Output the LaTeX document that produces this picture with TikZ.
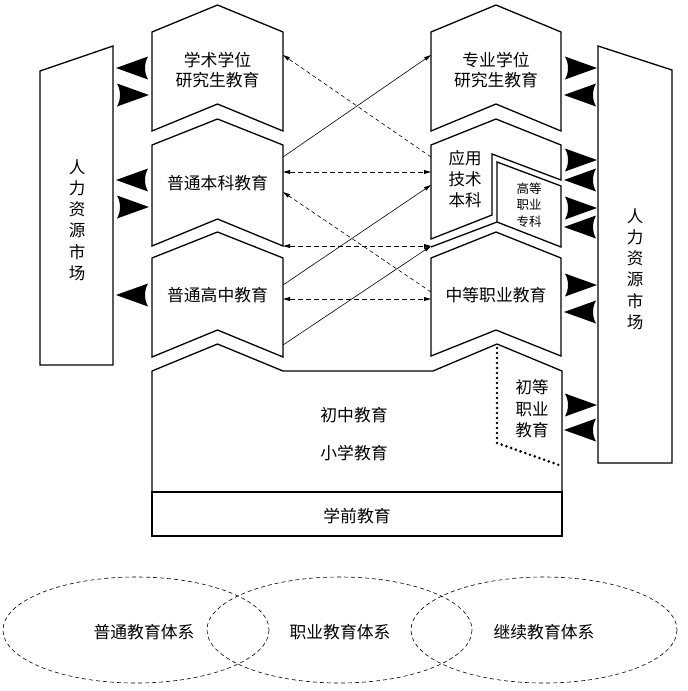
\documentclass[tikz,border=0pt]{standalone}
\usepackage{fontspec}
\newfontfamily\cjk{Noto Sans CJK SC}
\usetikzlibrary{arrows.meta}
\begin{document}
\begin{tikzpicture}[x=1pt,y=-1pt,
  box/.style={draw, line width=1.3pt, line join=miter},
  txt/.style={font=\cjk\fontsize{16.8}{20.5}\selectfont, align=center, inner sep=0pt},
  vtxt/.style={font=\cjk\fontsize{16.5}{21.2}\selectfont, align=center, inner sep=0pt},
  smalltxt/.style={font=\cjk\fontsize{12.5}{16.5}\selectfont, align=center, inner sep=0pt},
  link/.style={line width=0.6pt, -{Triangle[length=7pt,width=3.8pt]}},
  dlink/.style={link, dash pattern=on 4pt off 3pt},
  hlink/.style={line width=0.9pt, dash pattern=on 5pt off 3pt, {Triangle[length=7pt,width=3.8pt]}-{Triangle[length=7pt,width=3.8pt]}},
  ring/.style={draw, line width=0.6pt, dash pattern=on 4pt off 3pt},
  dotline/.style={draw, line width=2.9pt, line cap=round, dash pattern=on 0pt off 5pt},
  bigtip/.pic={\fill (0,0) -- (-32,-11.5) .. controls (-28,-4) and (-28,4) .. (-32,11.5) -- cycle;}
]
\useasboundingbox (0,0) rectangle (688,691);

% ---------- human resource markets ----------
\draw[box] (40,71) -- (113,46) -- (113,365) -- (40,365) -- cycle;
\node[vtxt] (mL) at (77,220) {人\\力\\资\\源\\市\\场};
\draw[box] (598,46) -- (672,70) -- (672,463) -- (598,463) -- cycle;
\node[vtxt] (mR) at (635,269) {人\\力\\资\\源\\市\\场};

% ---------- left column ----------
\draw[box] (152,32) -- (217.5,5) -- (283,32) -- (283,131) -- (217.5,104) -- (152,131) -- cycle;
\node[txt] (xs) at (217.5,70) {学术学位\\研究生教育};
\draw[box] (152,145) -- (217.5,119) -- (283,145) -- (283,246) -- (217.5,219) -- (152,246) -- cycle;
\node[txt] (bk) at (217.5,183) {普通本科教育};
\draw[box] (152,258) -- (217.5,232) -- (283,258) -- (283,357) -- (217.5,330) -- (152,357) -- cycle;
\node[txt] (gz) at (217.5,295) {普通高中教育};

% ---------- right column ----------
\draw[box] (431,32) -- (496,5) -- (561,32) -- (561,131) -- (496,104) -- (431,131) -- cycle;
\node[txt] (zy) at (496,70) {专业学位\\研究生教育};
\draw[box] (431,145) -- (496,119) -- (561,145) -- (561,180) -- (492,154) -- (492,215) -- (431,239) -- cycle;
\node[txt, font=\cjk\fontsize{16.5}{21}\selectfont] (yy) at (465,179) {应用\\技术\\本科};
\draw[box] (497,162) -- (561,186) -- (561,247) -- (497,222) -- cycle;
\draw[box] (497,222) -- (431,247);
\node[smalltxt] (gzk) at (529,205) {高等\\职业\\专科};
\draw[box] (431,258) -- (496,232) -- (561,258) -- (561,356) -- (496,330) -- (431,356) -- cycle;
\node[txt] (zz) at (496,295) {中等职业教育};

% ---------- base ----------
\draw[box] (152,371) -- (217.5,344) -- (283,371) -- (433,371) -- (497,344) -- (562,371) -- (562,492) -- (152,492) -- cycle;
\draw[box] (152,492) rectangle (562,536);
\node[txt] (cz) at (354,415) {初中教育};
\node[txt] (xx) at (354,453) {小学教育};
\node[txt] (xq) at (357,516) {学前教育};
\path[dotline] (497,348) -- (497,443) -- (559,465);
\node[txt, font=\cjk\fontsize{16.5}{21.5}\selectfont] (cd) at (532,409) {初等\\职业\\教育};

% ---------- connectors between columns ----------
\coordinate (a1) at (283,55);  \coordinate (b1) at (431,157);
\coordinate (a2) at (283,157); \coordinate (b2) at (431,55);
\coordinate (a3) at (283,172); \coordinate (b3) at (431,172);
\coordinate (a4) at (283,192); \coordinate (b4) at (431,292);
\coordinate (a5) at (283,285); \coordinate (b5) at (431,185);
\coordinate (a6) at (283,246); \coordinate (b6) at (431,246);
\coordinate (a7) at (283,345);
\coordinate (a8) at (283,299); \coordinate (b8) at (431,299);
\draw[dlink] (b1) -- (a1);
\draw[link] (a2) -- (b2);
\draw[hlink] (a3) -- (b3);
\draw[dlink] (b4) -- (a4);
\draw[link] (a5) -- (b5);
\draw[hlink] (a6) -- (b6);
\draw[link] (a7) -- (b6);
\draw[hlink] (a8) -- (b8);

% ---------- big arrowheads ----------
\pic[rotate=180] at (116,68) {bigtip};
\pic at (149,95) {bigtip};
\pic[rotate=180] at (116,180) {bigtip};
\pic at (149,207) {bigtip};
\pic[rotate=180] at (116,295) {bigtip};

\pic at (597,68) {bigtip};
\pic[rotate=180] at (564,95) {bigtip};
\pic at (597,160) {bigtip};
\pic[rotate=180] at (564,180) {bigtip};
\pic at (597,208) {bigtip};
\pic[rotate=180] at (564,227) {bigtip};
\pic at (597,285) {bigtip};
\pic[rotate=180] at (564,312) {bigtip};
\pic at (597,405) {bigtip};
\pic[rotate=180] at (564,430) {bigtip};

% ---------- education systems ----------
\draw[ring] (136,630) ellipse [x radius=133, y radius=53];
\draw[ring] (339.5,630) ellipse [x radius=132.5, y radius=53];
\draw[ring] (544,630) ellipse [x radius=133, y radius=53];
\node[txt] (pt) at (144,632) {普通教育体系};
\node[txt] (zyx) at (340,632) {职业教育体系};
\node[txt] (jx) at (544,632) {继续教育体系};
\end{tikzpicture}
\end{document}
